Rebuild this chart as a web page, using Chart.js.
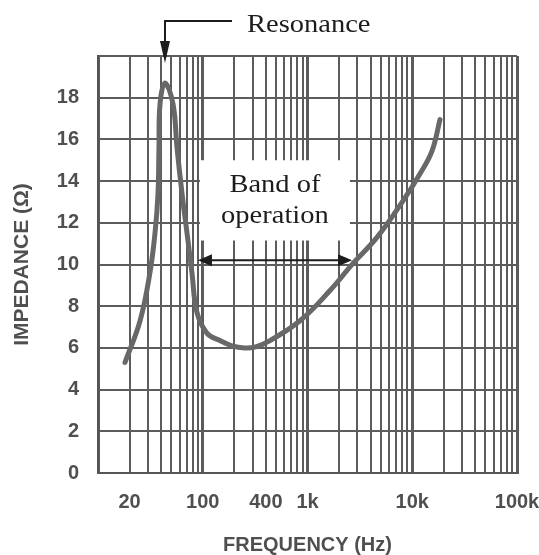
<!DOCTYPE html>
<html>
<head>
<meta charset="utf-8">
<script src="https://cdn.jsdelivr.net/npm/chart.js@4/dist/chart.umd.min.js"></script>
<style>
body { margin: 0; background: #fff; }
#wrap { width: 539px; height: 555px; }
</style>
</head>
<body>
<div id="wrap"><canvas id="myChart"></canvas></div>
<script>

// speaker impedance curve (ohms) against frequency (Hz)
var freq = [18.1, 25.2, 31.3, 35, 37.4, 38.2, 39.1, 43.6, 52, 56.8, 63.4, 70.8, 78.9, 88.1, 110, 146, 190, 250, 320, 438, 848, 1640, 2718, 4605, 8160, 11860, 15450, 18400];
var impedance = [5.3, 7.3, 9.6, 11.5, 13.4, 15.6, 17.7, 18.7, 17.7, 15.6, 13.4, 11.5, 9.6, 7.7, 6.7, 6.35, 6.1, 6.0, 6.05, 6.35, 7.3, 8.75, 10.05, 11.3, 13.05, 14.35, 15.45, 16.95];

var freqTicks = [20, 100, 400, 1000, 10000, 100000];
var freqTickText = ['20', '100', '400', '1k', '10k', '100k'];
var impedanceTicks = [0, 2, 4, 6, 8, 10, 12, 14, 16, 18];

// annotation anchors, in data units
var resonanceFreq = 43.6;
var bandFrom = 90, bandTo = 2660, bandLevel = 10.2;
var boxFrom = 94, boxTo = 2540, boxLow = 11.15, boxHigh = 15;

var points = [];
for (var i = 0; i < freq.length; i++) {
  points.push({x: freq[i], y: impedance[i]});
}

var gridColor = '#5c5c5c';
var labelColor = '#4f4f4f';

function isDecade(v) {
  var e = Math.log10(v);
  return Math.abs(e - Math.round(e)) < 1e-9;
}

function arrowHead(ctx, tipX, tipY, dx, dy, len, half) {
  // dx,dy = unit direction the arrow points to
  var bx = tipX - dx * len, by = tipY - dy * len;
  ctx.beginPath();
  ctx.moveTo(tipX, tipY);
  ctx.lineTo(bx - dy * half, by + dx * half);
  ctx.lineTo(bx + dy * half, by - dx * half);
  ctx.closePath();
  ctx.fill();
}

function serifText(ctx, txt, px, py, align) {
  ctx.save();
  ctx.translate(px, py);
  ctx.scale(1.14, 1);
  ctx.textAlign = align;
  ctx.textBaseline = 'alphabetic';
  ctx.fillText(txt, 0, 0);
  ctx.restore();
}

var notes = {
  id: 'notes',
  afterDraw: function (chart) {
    var ctx = chart.ctx;
    var xs = chart.scales.x, ys = chart.scales.y;
    var top = chart.chartArea.top;
    ctx.save();

    // white label box for the operating band
    var bl = xs.getPixelForValue(boxFrom), br = xs.getPixelForValue(boxTo);
    var bt = ys.getPixelForValue(boxHigh), bb = ys.getPixelForValue(boxLow);
    ctx.fillStyle = '#fff';
    ctx.fillRect(bl, bt, br - bl, bb - bt);

    ctx.fillStyle = '#1c1c1c';
    ctx.font = '25px "Liberation Serif", "Times New Roman", serif';
    var cx = (bl + br) / 2;
    serifText(ctx, 'Band of', cx, bt + 32, 'center');
    serifText(ctx, 'operation', cx, bt + 63, 'center');

    // double headed arrow
    var ax1 = xs.getPixelForValue(bandFrom), ax2 = xs.getPixelForValue(bandTo);
    var ay = ys.getPixelForValue(bandLevel);
    ctx.strokeStyle = '#1c1c1c';
    ctx.lineWidth = 2;
    ctx.beginPath();
    ctx.moveTo(ax1 + 8, ay);
    ctx.lineTo(ax2 - 8, ay);
    ctx.stroke();
    arrowHead(ctx, ax1, ay, -1, 0, 14, 6);
    arrowHead(ctx, ax2, ay, 1, 0, 14, 6);

    // resonance pointer
    var rx = xs.getPixelForValue(resonanceFreq);
    ctx.beginPath();
    ctx.moveTo(rx + 67, top - 35);
    ctx.lineTo(rx, top - 35);
    ctx.lineTo(rx, top - 10);
    ctx.stroke();
    arrowHead(ctx, rx, top + 7, 0, 1, 22, 5);
    serifText(ctx, 'Resonance', rx + 82, top - 24, 'left');

    ctx.restore();
  }
};

var myChart = new Chart(document.getElementById('myChart'), {
  type: 'line',
  data: {
    datasets: [{
      data: points,
      borderColor: '#686868',
      borderWidth: 5,
      pointRadius: 0,
      tension: 0.4,
      borderCapStyle: 'round',
      borderJoinStyle: 'round',
      fill: false
    }]
  },
  options: {
    responsive: true,
    maintainAspectRatio: false,
    animation: false,
    layout: { padding: { top: 56, right: 0, left: 0, bottom: 0 } },
    plugins: { legend: { display: false }, tooltip: { enabled: false } },
    scales: {
      x: {
        type: 'logarithmic',
        min: 10,
        max: 100000,
        afterBuildTicks: function (scale) {
          var t = [];
          for (var e = 1; e <= 4; e++) {
            for (var m = 1; m <= 9; m++) t.push({value: m * Math.pow(10, e)});
          }
          t.push({value: 100000});
          scale.ticks = t;
        },
        afterFit: function (scale) {
          scale.height = 82;
          scale.paddingRight = 22;
        },
        ticks: {
          autoSkip: false,
          maxRotation: 0,
          padding: 17,
          color: labelColor,
          font: { family: '"Liberation Sans", Arial, sans-serif', size: 20, weight: 'bold' },
          callback: function (value) {
            var k = freqTicks.indexOf(value);
            return k < 0 ? '' : freqTickText[k];
          }
        },
        grid: {
          color: gridColor,
          drawTicks: false,
          lineWidth: function (c) {
            return (c.tick && isDecade(c.tick.value)) ? 3 : 2;
          }
        },
        border: { display: true, color: '#555', width: 2 },
        title: {
          display: true,
          text: 'FREQUENCY (Hz)',
          color: labelColor,
          font: { family: '"Liberation Sans", Arial, sans-serif', size: 20, weight: 'bold', lineHeight: 1 },
          padding: { top: 0, bottom: 0 }
        }
      },
      y: {
        type: 'linear',
        min: 0,
        max: 20,
        afterBuildTicks: function (scale) {
          var t = impedanceTicks.map(function (v) { return {value: v}; });
          t.push({value: 20});
          scale.ticks = t;
        },
        afterFit: function (scale) { scale.width = 98; },
        ticks: {
          padding: 19,
          color: labelColor,
          font: { family: '"Liberation Sans", Arial, sans-serif', size: 20, weight: 'bold' },
          callback: function (value) {
            return impedanceTicks.indexOf(value) < 0 ? '' : String(value);
          }
        },
        grid: { color: gridColor, lineWidth: 2, drawTicks: false },
        border: { display: true, color: '#555', width: 2 },
        title: {
          display: true,
          text: 'IMPEDANCE (Ω)',
          color: labelColor,
          font: { family: '"Liberation Sans", Arial, sans-serif', size: 21, weight: 'bold', lineHeight: 1.2 },
          padding: { top: 10, bottom: 0 }
        }
      }
    }
  },
  plugins: [notes]
});

</script>
</body>
</html>
